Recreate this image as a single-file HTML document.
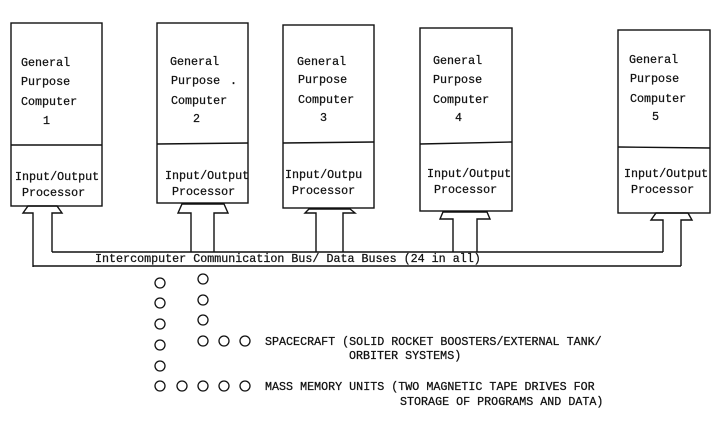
<!DOCTYPE html>
<html><head><meta charset="utf-8"><style>
html,body{margin:0;padding:0;background:#fff;}
svg{display:block;}
text{font-family:"Liberation Mono",monospace;font-size:11.7px;fill:#111;stroke:#111;stroke-width:0.25;}
</style></head><body>
<svg width="720" height="422" viewBox="0 0 720 422" xmlns="http://www.w3.org/2000/svg">
<g fill="none" stroke="#111" stroke-width="1.4">
<rect x="11" y="23" width="91" height="183"/><line x1="11" y1="145" x2="102" y2="145"/>
<rect x="157" y="23" width="91" height="180"/><line x1="157" y1="144" x2="248" y2="143"/>
<rect x="283" y="25" width="91" height="183"/><line x1="283" y1="143" x2="374" y2="142"/>
<rect x="420" y="28" width="92" height="183"/><line x1="420" y1="144" x2="512" y2="142"/>
<rect x="618" y="30" width="92" height="183"/><line x1="618" y1="147" x2="710" y2="148"/>
<polyline points="33,267 33,213 23,213 28,206 57,206 62,213 52,213 52,252"/>
<polyline points="191,252 191,213 178,213 182,204 224,204 228,213 214,213 214,252"/>
<polyline points="316,252 316,213 305,213 309,209 350,209 355,213 343,213 343,252"/>
<polyline points="453,252 453,219 440,219 443,212 487,212 490,219 477,219 477,252"/>
<polyline points="663,252 663,220 651,220 656,213 688,213 692,220 681,220 681,266"/>
<line x1="52" y1="252" x2="663" y2="252"/>
<line x1="33" y1="266" x2="681" y2="266"/>
<g stroke-width="1.3">
<circle cx="160" cy="283" r="5"/><circle cx="160" cy="303" r="5"/><circle cx="160" cy="324" r="5"/><circle cx="160" cy="345" r="5"/><circle cx="160" cy="366" r="5"/><circle cx="160" cy="386" r="5"/>
<circle cx="203" cy="279" r="5"/><circle cx="203" cy="300" r="5"/><circle cx="203" cy="320" r="5"/><circle cx="203" cy="341" r="5"/>
<circle cx="224" cy="341" r="5"/><circle cx="245" cy="341" r="5"/>
<circle cx="182" cy="386" r="5"/><circle cx="203" cy="386" r="5"/><circle cx="224" cy="386" r="5"/><circle cx="245" cy="386" r="5"/>
</g>
</g>
<g>
<text x="21" y="66">General</text><text x="21" y="85">Purpose</text><text x="21" y="105">Computer</text><text x="43" y="124">1</text>
<text x="15" y="180">Input/Output</text><text x="22" y="196">Processor</text>
<text x="170" y="65">General</text><text x="171" y="84">Purpose</text><text x="171" y="104">Computer</text><text x="193" y="122">2</text><text x="230" y="84">.</text>
<text x="165" y="179">Input/Output</text><text x="172" y="195">Processor</text>
<text x="297" y="65">General</text><text x="298" y="83">Purpose</text><text x="298" y="103">Computer</text><text x="320" y="121">3</text>
<text x="285" y="178">Input/Outpu</text><text x="292" y="194">Processor</text>
<text x="433" y="64">General</text><text x="433" y="83">Purpose</text><text x="433" y="103">Computer</text><text x="455" y="121">4</text>
<text x="427" y="177">Input/Output</text><text x="434" y="193">Processor</text>
<text x="629" y="63">General</text><text x="630" y="82">Purpose</text><text x="630" y="102">Computer</text><text x="652" y="120">5</text>
<text x="624" y="177">Input/Output</text><text x="631" y="193">Processor</text>
<text x="95" y="262">Intercomputer Communication Bus/ Data Buses (24 in all)</text>
<text x="265" y="345">SPACECRAFT (SOLID ROCKET BOOSTERS/EXTERNAL TANK/</text>
<text x="349" y="359">ORBITER SYSTEMS)</text>
<text x="265" y="390">MASS MEMORY UNITS (TWO MAGNETIC TAPE DRIVES FOR</text>
<text x="400" y="405">STORAGE OF PROGRAMS AND DATA)</text>
</g>
</svg>
</body></html>
